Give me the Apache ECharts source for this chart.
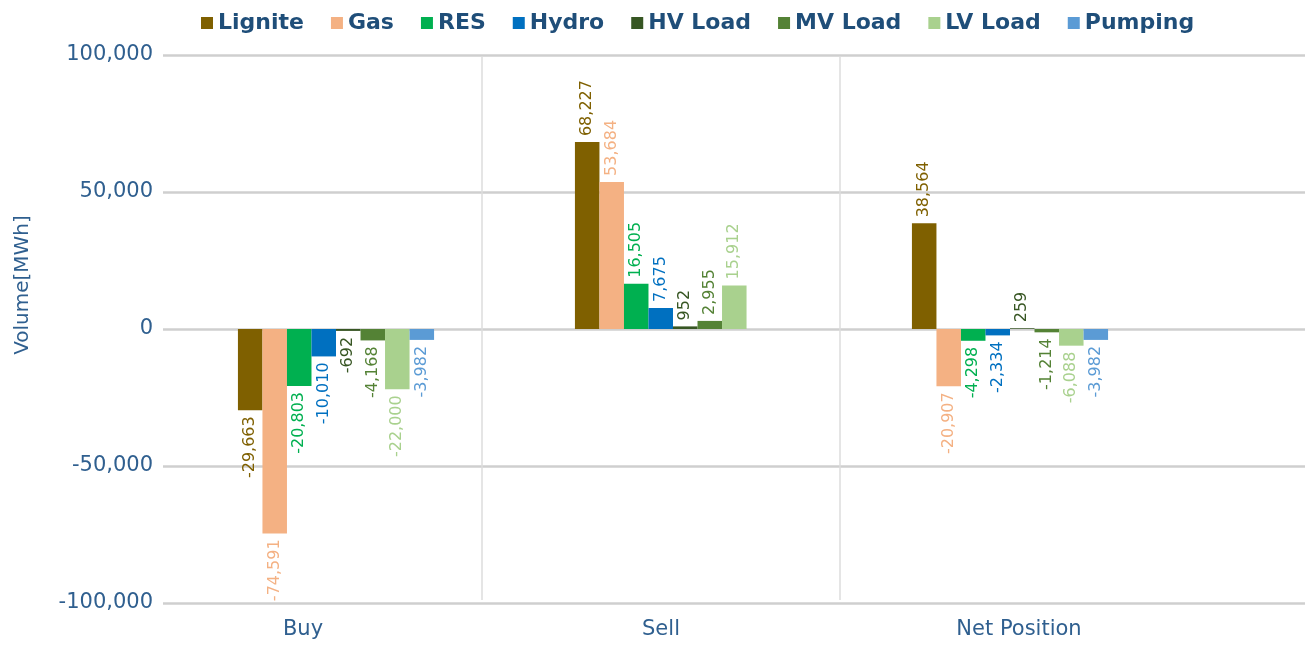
<!DOCTYPE html>
<html>
<head>
<meta charset="utf-8">
<script src="https://cdn.jsdelivr.net/npm/echarts@6/dist/echarts.min.js"></script>
<style>
  html, body { margin: 0; padding: 0; background: #fff; }
  #chart { width: 1309px; height: 648px; }
</style>
</head>
<body>
<div id="chart"></div>
<script>
var categories = ['Buy', 'Sell', 'Net Position'];
var seriesNames = ['Lignite', 'Gas', 'RES', 'Hydro', 'HV Load', 'MV Load', 'LV Load', 'Pumping'];
var lignite = [-29663, 68227, 38564];
var gas = [-74591, 53684, -20907];
var res = [-20803, 16505, -4298];
var hydro = [-10010, 7675, -2334];
var hvLoad = [-692, 952, 259];
var mvLoad = [-4168, 2955, -1214];
var lvLoad = [-22000, 15912, -6088];
var pumping = [-3982, null, -3982];
var yTicks = [-100000, -50000, 0, 50000, 100000];

var colors = ['#7F6000', '#F4B183', '#00B050', '#0070C0', '#375623', '#548235', '#A9D18E', '#5B9BD5'];
var allValues = [lignite, gas, res, hydro, hvLoad, mvLoad, lvLoad, pumping];
var textBlue = '#2F5F8F';

function fmt(v) {
  return (v < 0 ? '-' : '') + Math.abs(v).toLocaleString('en-US');
}

var series = seriesNames.map(function (name, i) {
  return {
    name: name,
    type: 'bar',
    xAxisIndex: 2,
    yAxisIndex: 2,
    barGap: 0,
    barCategoryGap: '41.8%',
    itemStyle: { color: colors[i] },
    data: allValues[i].map(function (v) {
      if (v === null) return '-';
      var neg = v < 0;
      return {
        value: v,
        label: {
          show: true,
          position: neg ? 'bottom' : 'top',
          rotate: 90,
          align: neg ? 'right' : 'left',
          verticalAlign: 'middle',
          distance: 6,
          color: colors[i],
          fontFamily: 'DejaVu Sans',
          fontSize: 16,
          formatter: function (p) { return fmt(p.value); }
        }
      };
    })
  };
});

var chart = echarts.init(document.getElementById('chart'));
chart.setOption({
  animation: false,
  color: colors,
  legend: {
    top: 7,
    left: 196,
    itemWidth: 12,
    itemHeight: 12,
    itemGap: 27,
    icon: 'rect',
    textStyle: { color: '#1F4E79', fontFamily: 'DejaVu Sans', fontWeight: 'bold', fontSize: 22 },
    data: seriesNames
  },
  graphic: [{
    type: 'text',
    rotation: Math.PI / 2,
    x: 23, y: 285,
    style: { text: 'Volume[MWh]', fill: textBlue, font: '20px "DejaVu Sans"', textAlign: 'center', textVerticalAlign: 'middle' }
  }],
  grid: [
    { left: 163, right: 4, top: 55, bottom: 45 },
    { left: 124, right: 111, top: 55, bottom: 45 },
    { left: 167.5, right: 130.5, top: 55, bottom: 45 },
    { left: 482, right: 469, top: 57, bottom: 48 }
  ],
  xAxis: [
    { gridIndex: 0, type: 'category', data: categories, show: false },
    {
      gridIndex: 1, type: 'category', data: categories,
      axisLine: { show: false }, axisTick: { show: false },
      axisLabel: { color: textBlue, fontFamily: 'DejaVu Sans', fontSize: 21, margin: 16 },
      splitLine: { show: false }
    },
    { gridIndex: 2, type: 'category', data: categories, show: false },
    {
      gridIndex: 3, type: 'value', min: 0, max: 1, interval: 1,
      axisLine: { show: false }, axisTick: { show: false }, axisLabel: { show: false },
      splitLine: { show: true, lineStyle: { color: '#DDDDDD', width: 1.5 } }
    }
  ],
  yAxis: [
    {
      gridIndex: 0, type: 'value', min: yTicks[0], max: yTicks[yTicks.length - 1], interval: 50000,
      axisLine: { show: false }, axisTick: { show: false },
      axisLabel: {
        color: textBlue, fontFamily: 'DejaVu Sans', fontSize: 21, margin: 10,
        formatter: function (v) { return fmt(v); }
      },
      splitLine: { lineStyle: { color: '#CFCFCF', width: 2.5 } }
    },
    { gridIndex: 1, type: 'value', min: -100000, max: 100000, show: false },
    { gridIndex: 2, type: 'value', min: -100000, max: 100000, show: false },
    { gridIndex: 3, type: 'value', min: 0, max: 1, show: false }
  ],
  series: series
});
</script>
</body>
</html>
